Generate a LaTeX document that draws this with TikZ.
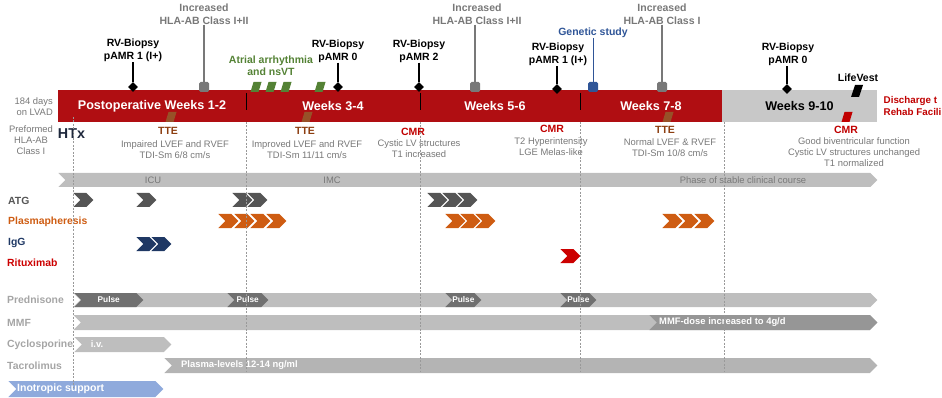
\documentclass[tikz,border=0pt]{standalone}
\usepackage{fontspec}
\setmainfont{Liberation Sans}
\usepackage{xcolor}
\usetikzlibrary{positioning}
\usetikzlibrary{shapes.geometric}
\usetikzlibrary{shapes.symbols}

\definecolor{barred}{RGB}{176,14,18}
\definecolor{bargray}{RGB}{200,200,200}
\definecolor{bandgray}{RGB}{190,190,190}
\definecolor{pulsegray}{RGB}{112,112,112}
\definecolor{dosegray}{RGB}{150,150,150}
\definecolor{atggray}{RGB}{85,85,85}
\definecolor{plasmaorange}{RGB}{206,92,18}
\definecolor{iggblue}{RGB}{31,56,100}
\definecolor{rituxred}{RGB}{204,0,0}
\definecolor{arrgreen}{RGB}{84,130,53}
\definecolor{ttebrown}{RGB}{140,62,16}
\definecolor{cmrred}{RGB}{192,0,0}
\definecolor{genblue}{RGB}{47,85,151}
\definecolor{inoblue}{RGB}{143,170,220}
\definecolor{txtgray}{RGB}{120,120,120}
\definecolor{rowgray}{RGB}{165,165,165}
\definecolor{htxnavy}{RGB}{30,40,60}

\begin{document}
\begin{tikzpicture}[x=1pt,y=-1pt,
    period/.style={rectangle,fill=barred,text=white,inner sep=0,minimum height=32,
        font=\fontsize{12.6}{14}\selectfont\bfseries},
    event/.style={align=center,inner sep=0,font=\fontsize{10.5}{13}\selectfont\bfseries},
    finding/.style={align=center,inner sep=0,text=txtgray,font=\fontsize{9.4}{11}\selectfont},
    exam/.style={inner sep=0,font=\fontsize{10.5}{12}\selectfont\bfseries},
    biopsy/.style={diamond,fill=black,inner sep=0,minimum size=10},
    hlabox/.style={rectangle,rounded corners=1.5,inner sep=0,minimum size=10},
    chev/.style={signal,signal from=west,signal to=east,inner sep=0,
        minimum width=20,minimum height=14,anchor=west},
    band/.style={signal,signal from=west,signal to=east,fill=bandgray,inner sep=0,
        minimum height=14,anchor=west},
    rowlabel/.style={anchor=west,inner sep=0,font=\fontsize{10.4}{12}\selectfont\bfseries},
    bandtext/.style={inner sep=0,text=white,font=\fontsize{9.4}{11}\selectfont\bfseries},
    divider/.style={black,line width=1},
    sepline/.style={gray!80,line width=0.7,dash pattern=on 2pt off 1.5pt},
]
    \clip (0,0) rectangle (942,398);

    % timeline bar
    \node[period,minimum width=188] (W12) at (152,106) {Postoperative Weeks 1-2};
    \node[period,minimum width=174] (W34) at (333,106) {Weeks 3-4};
    \node[period,minimum width=160] (W56) at (500,106) {\hspace*{-10pt}Weeks 5-6};
    \node[period,minimum width=142] (W78) at (651,106) {Weeks 7-8};
    \node[period,minimum width=155,fill=bargray,text=black] (W910) at (799.5,106) {Weeks 9-10};
    \draw[divider] (246,93) -- (246,110);
    \draw[divider] (420,93) -- (420,110);
    \draw[divider] (580,93) -- (580,110);

    \node[finding,align=right,anchor=east] (LVAD) at (53,106.5) {184 days\\on LVAD};
    \node[finding] (PRE) at (31,140.5) {Preformed\\HLA-AB\\Class I};
    \node[inner sep=0,text=htxnavy,font=\fontsize{14.3}{16}\selectfont\bfseries] (HTX) at (71.5,134) {HTx};
    \node[exam,anchor=west,text=cmrred,align=left,font=\fontsize{9.8}{12}\selectfont\bfseries] (DIS) at (883.5,106) {Discharge t\\Rehab Facili};

    % events above the bar
    \node[biopsy] (D1) at (133,87) {};
    \node[event] (B1) at (133,50.5) {RV-Biopsy\\pAMR 1 (I+)};
    \draw[line width=1.2] (B1) -- (D1);

    \node[hlabox,fill=txtgray] (S1) at (204,87) {};
    \node[event,text=txtgray] (H1) at (204,14) {Increased\\HLA-AB Class I+II};
    \draw[txtgray,line width=1.5] (H1) -- (S1);

    \node[event,text=arrgreen,font=\fontsize{10.5}{12}\selectfont\bfseries] (ARR) at (271,66) {Atrial arrhythmia\\and nsVT};
    \fill[arrgreen] (250.5,92) -- (253.5,82) -- (261.5,82) -- (258.5,92) -- cycle;
    \fill[arrgreen] (265.5,92) -- (268.5,82) -- (276.5,82) -- (273.5,92) -- cycle;
    \fill[arrgreen] (280.5,92) -- (283.5,82) -- (291.5,82) -- (288.5,92) -- cycle;
    \fill[arrgreen] (314.5,92) -- (317.5,82) -- (325.5,82) -- (322.5,92) -- cycle;

    \node[biopsy] (D2) at (338,87) {};
    \node[event] (B2) at (338,51) {RV-Biopsy\\pAMR 0};
    \draw[line width=1.2] (B2) -- (D2);

    \node[biopsy] (D3) at (419,87) {};
    \node[event] (B3) at (419,51) {RV-Biopsy\\pAMR 2};
    \draw[line width=1.2] (B3) -- (D3);

    \node[hlabox,fill=txtgray] (S2) at (475,87) {};
    \node[event,text=txtgray] (H2) at (477,14) {Increased\\HLA-AB Class I+II};
    \draw[txtgray,line width=1.5] (H2.south -| S2) -- (S2);

    \node[biopsy] (D4) at (557,89) {};
    \node[event] (B4) at (558,54.5) {RV-Biopsy\\pAMR 1 (I+)};
    \draw[line width=1.2] (B4.south -| D4) -- (D4);

    \node[hlabox,fill=genblue] (S3) at (593,87) {};
    \node[event,text=genblue] (GEN) at (593,33) {Genetic study};
    \draw[genblue,line width=1] (GEN) -- (S3);

    \node[hlabox,fill=txtgray] (S4) at (662,87) {};
    \node[event,text=txtgray] (H3) at (662,14) {Increased\\HLA-AB Class I};
    \draw[txtgray,line width=1.5] (H3) -- (S4);

    \node[biopsy] (D5) at (787,89) {};
    \node[event] (B5) at (788,54.5) {RV-Biopsy\\pAMR 0};
    \draw[line width=1.2] (B5.south -| D5) -- (D5);

    \node[event] (LV) at (858,78) {LifeVest};
    \fill[black] (851,97) -- (855,85) -- (863,85) -- (859,97) -- cycle;

    % imaging below the bar
    \fill[ttebrown!90] (165.5,122) -- (168.5,112) -- (176.5,112) -- (173.5,122) -- cycle;
    \fill[ttebrown!90] (301.5,122) -- (304.5,112) -- (312.5,112) -- (309.5,122) -- cycle;
    \fill[ttebrown!90] (662.5,122) -- (665.5,112) -- (673.5,112) -- (670.5,122) -- cycle;
    \fill[cmrred] (841.5,122) -- (844.5,112) -- (852.5,112) -- (849.5,122) -- cycle;

    \node[exam,text=ttebrown] (TTE1) at (168,131) {TTE};
    \node[finding] (F1) at (175,149.5) {Impaired LVEF and RVEF\\TDI-Sm 6/8 cm/s};
    \node[exam,text=ttebrown] (TTE2) at (305,131) {TTE};
    \node[finding] (F2) at (307,149.5) {Improved LVEF and RVEF\\TDI-Sm 11/11 cm/s};
    \node[exam,text=cmrred] (CMR1) at (413,132) {CMR};
    \node[finding] (F3) at (419,148.5) {Cystic LV structures\\T1 increased};
    \node[exam,text=cmrred] (CMR2) at (552,129) {CMR};
    \node[finding] (F4) at (551,146.5) {T2 Hyperintensity\\LGE Melas-like};
    \node[exam,text=ttebrown] (TTE3) at (665,130) {TTE};
    \node[finding] (F5) at (670,147.5) {Normal LVEF \& RVEF\\TDI-Sm 10/8 cm/s};
    \node[exam,text=cmrred] (CMR3) at (846,130) {CMR};
    \node[finding] (F6) at (854,152) {Good biventricular function\\Cystic LV structures unchanged\\T1 normalized};

    % clinical phases
    \node[band,minimum width=819] (PH) at (65,180) {};
    \node[finding] (ICU) at (153,180) {ICU};
    \node[finding] (IMC) at (332,180) {IMC};
    \node[finding] (STB) at (743,180) {Phase of stable clinical course};

    % therapies
    \node[rowlabel,text=atggray] (ATG) at (8,201) {ATG};
    \node[chev,fill=atggray] (A1) at (80,200) {};
    \node[chev,fill=atggray] (A2) at (143,200) {};
    \node[chev,fill=atggray] (A3) at (239,200) {};
    \node[chev,fill=atggray] (A4) at (254,200) {};
    \node[chev,fill=atggray] (A5) at (434,200) {};
    \node[chev,fill=atggray] (A6) at (449,200) {};
    \node[chev,fill=atggray] (A7) at (464,200) {};

    \node[rowlabel,text=plasmaorange] (PLA) at (8,222) {Plasmapheresis};
    \node[chev,fill=plasmaorange] (P1) at (225,221) {};
    \node[chev,fill=plasmaorange] (P2) at (241,221) {};
    \node[chev,fill=plasmaorange] (P3) at (257,221) {};
    \node[chev,fill=plasmaorange] (P4) at (273,221) {};
    \node[chev,fill=plasmaorange] (P5) at (452,221) {};
    \node[chev,fill=plasmaorange] (P6) at (467,221) {};
    \node[chev,fill=plasmaorange] (P7) at (482,221) {};
    \node[chev,fill=plasmaorange] (P8) at (669,221) {};
    \node[chev,fill=plasmaorange] (P9) at (685,221) {};
    \node[chev,fill=plasmaorange] (P10) at (701,221) {};

    \node[rowlabel,text=iggblue] (IGG) at (8,243) {IgG};
    \node[chev,fill=iggblue] (I1) at (143,244) {};
    \node[chev,fill=iggblue] (I2) at (158,244) {};

    \node[rowlabel,text=rituxred] (RIT) at (7,263) {Rituximab};
    \node[chev,fill=rituxred] (R1) at (567,256) {};

    % immunosuppression
    \node[rowlabel,text=rowgray] (PRED) at (7,300) {Prednisone};
    \node[band,minimum width=804] (PB) at (80,300) {};
    \node[band,fill=pulsegray,minimum width=69,text=white,font=\fontsize{8.3}{9}\selectfont\bfseries] (PU1) at (81,300) {Pulse};
    \node[band,fill=pulsegray,minimum width=41,text=white,font=\fontsize{8.3}{9}\selectfont\bfseries] (PU2) at (234,300) {Pulse};
    \node[band,fill=pulsegray,minimum width=35,text=white,font=\fontsize{8.3}{9}\selectfont\bfseries] (PU3) at (452,300) {Pulse};
    \node[band,fill=pulsegray,minimum width=36,text=white,font=\fontsize{8.3}{9}\selectfont\bfseries] (PU4) at (567,300) {Pulse};

    \node[rowlabel,text=rowgray] (MMF) at (7,323) {MMF};
    \node[band,minimum width=804,minimum height=15] (MB) at (80.5,322.5) {};
    \node[band,fill=dosegray,minimum width=228,minimum height=15] (MD) at (656.5,322.5) {};
    \node[bandtext,anchor=west] (MDT) at (659,322.5) {MMF-dose increased to 4g/d};

    \node[rowlabel,text=rowgray] (CYC) at (7,345) {Cyclosporine};
    \node[band,minimum width=97,minimum height=15] (CB) at (81.5,344.5) {};
    \node[bandtext] (IV) at (97,344.5) {i.v.};

    \node[rowlabel,text=rowgray] (TAC) at (7,366) {Tacrolimus};
    \node[band,minimum width=713,minimum height=15,fill=bandgray!95!black] (TB) at (171.5,365.5) {};
    \node[bandtext,anchor=west] (TBT) at (181,365.5) {Plasma-levels 12-14 ng/ml};

    \node[band,fill=inoblue,minimum width=155,minimum height=16] (INO) at (16,389) {};
    \node[bandtext,anchor=west,font=\fontsize{10.5}{12}\selectfont\bfseries] (INOT) at (17,389) {Inotropic support};

    % week separators
    \draw[sepline] (73,117) -- (73,388);
    \draw[sepline] (246,122) -- (246,372);
    \draw[sepline] (420,122) -- (420,372);
    \draw[sepline] (580,122) -- (580,372);
    \draw[sepline] (724,122) -- (724,372);
\end{tikzpicture}
\end{document}
